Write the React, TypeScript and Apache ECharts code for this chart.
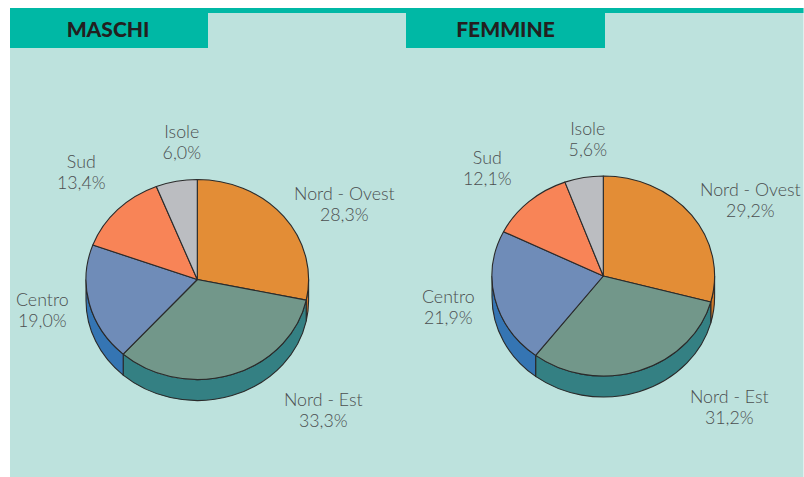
import React, { useEffect, useRef } from "react";
import * as echarts from "echarts";

const categories = ["Nord - Ovest", "Nord - Est", "Centro", "Sud", "Isole"];
const maschi = [28.3, 33.3, 19.0, 13.4, 6.0];
const femmine = [29.2, 31.2, 21.9, 12.1, 5.6];

const TOP_COLORS = ["#E38D36", "#72978A", "#6F8CB8", "#F88457", "#BBBDC1"];
const SIDE_COLORS = ["#CF7A2A", "#348083", "#3575B3", "#D0703F", "#9A9CA0"];
const LABEL_OFFSETS = [[147, -76.5], [126, 130], [-155, 30], [-116, -108.5], [-15.5, -138]];
const RX = 111.3;
const RY = 100;
const DEPTH = 21;
const EDGE = "#2A2A2A";
const FONT = "Lato, 'Noto Sans', sans-serif";

function pieSeries(name: string, values: number[], cx: number, cy: number) {
  const total = values.reduce((a, b) => a + b, 0);
  const pt = (deg: number, dy = 0) => {
    const r = (deg * Math.PI) / 180;
    return [cx + RX * Math.sin(r), cy - RY * Math.cos(r) + dy];
  };
  const arc = (from: number, to: number, dy: number) => {
    const [x, y] = pt(to, dy);
    const large = Math.abs(to - from) > 180 ? 1 : 0;
    const sweep = to > from ? 1 : 0;
    return `A ${RX} ${RY} 0 ${large} ${sweep} ${x} ${y}`;
  };
  return {
    type: "custom",
    name,
    coordinateSystem: "none",
    silent: true,
    clip: false,
    data: values.map((v, i) => ({ value: v, name: categories[i] })),
    renderItem: (params: any) => {
      const i = params.dataIndex;
      const before = values.slice(0, i).reduce((a, b) => a + b, 0);
      const a0 = (before / total) * 360;
      const a1 = ((before + values[i]) / total) * 360;
      const children: any[] = [];
      const s0 = Math.max(a0, 90);
      const s1 = Math.min(a1, 270);
      if (s1 > s0) {
        const [x0, y0] = pt(s0);
        const [bx1, by1] = pt(s1, DEPTH);
        const d = `M ${x0} ${y0} ${arc(s0, s1, 0)} L ${bx1} ${by1} ${arc(s1, s0, DEPTH)} Z`;
        children.push({
          type: "path",
          shape: { pathData: d },
          style: { fill: SIDE_COLORS[i], stroke: EDGE, lineWidth: 1.1 },
        });
      }
      const [sx, sy] = pt(a0);
      const top = `M ${cx} ${cy} L ${sx} ${sy} ${arc(a0, a1, 0)} Z`;
      children.push({
        type: "path",
        shape: { pathData: top },
        style: { fill: TOP_COLORS[i], stroke: EDGE, lineWidth: 1.1, lineJoin: "round" },
      });
      const [ox, oy] = LABEL_OFFSETS[i];
      children.push({
        type: "text",
        x: cx + ox,
        y: cy + oy,
        style: {
          text: `${categories[i]}\n${values[i].toFixed(1).replace(".", ",")}%`,
          align: "center",
          verticalAlign: "middle",
          fill: "#4B4F50",
          fontFamily: FONT,
          fontWeight: 300,
          fontSize: 17.8,
          lineHeight: 21,
        },
      });
      return { type: "group", children };
    },
  };
}

function tabTitle(text: string, x: number) {
  return {
    type: "text",
    x,
    y: 28.5,
    style: {
      text,
      align: "center",
      verticalAlign: "middle",
      fill: "#231F20",
      fontFamily: FONT,
      fontWeight: 900,
      fontSize: 21,
    },
  };
}

export default function App() {
  const ref = useRef<HTMLDivElement>(null);
  useEffect(() => {
    document.body.style.margin = "0";
    const chart = echarts.init(ref.current!, null, { renderer: "svg" });
    chart.setOption({
      animation: false,
      backgroundColor: "#FFFFFF",
      graphic: [
        { type: "rect", z: -10, shape: { x: 10, y: 8, width: 793.5, height: 469 }, style: { fill: "#BDE2DD" } },
        { type: "rect", z: -9, shape: { x: 10, y: 8, width: 793.5, height: 5 }, style: { fill: "#00B8A5" } },
        { type: "rect", z: -9, shape: { x: 10, y: 8, width: 198, height: 40 }, style: { fill: "#00B8A5" } },
        { type: "rect", z: -9, shape: { x: 406, y: 8, width: 199, height: 40 }, style: { fill: "#00B8A5" } },
        { ...tabTitle("MASCHI", 108), z: 5 },
        { ...tabTitle("FEMMINE", 505.5), z: 5 },
      ],
      series: [pieSeries("Maschi", maschi, 197.3, 279.5), pieSeries("Femmine", femmine, 603.3, 276)],
    });
    return () => chart.dispose();
  }, []);
  return <div ref={ref} style={{ width: 804, height: 477 }} />;
}
